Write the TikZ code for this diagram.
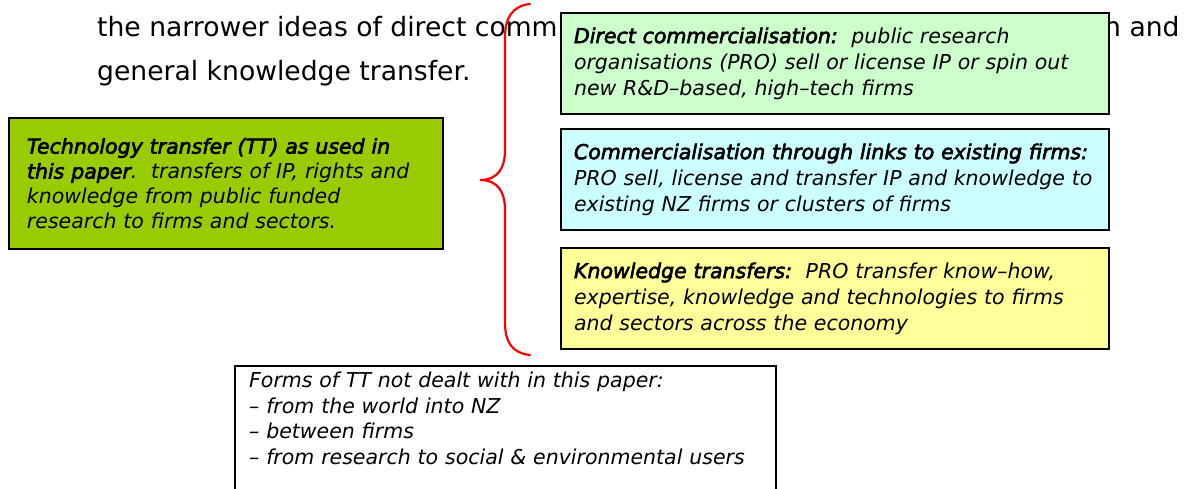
\documentclass[tikz,border=0pt]{standalone}
\usepackage{fontspec}
\setmainfont{DejaVu Sans}[BoldFont={DejaVu Sans}, BoldItalicFont={DejaVu Sans Oblique},
	BoldFeatures={FakeBold=3}, BoldItalicFeatures={FakeBold=3}]
\usepackage{xcolor}

\definecolor{ttgreen}{HTML}{99CC00}
\definecolor{dcgreen}{HTML}{CCFFCC}
\definecolor{linkcyan}{HTML}{CCFFFF}
\definecolor{ktyellow}{HTML}{FFFF99}

\tikzset{
	bodytext/.style={anchor=base west, inner sep=0pt, font=\fontsize{26.6}{43}\selectfont},
	ttbox/.style={draw, rectangle, line width=2pt, anchor=north west, align=left,
		font=\fontsize{20.5}{25}\selectfont\itshape},
	kind/.style={ttbox, inner xsep=13pt, text width=522pt, minimum height=101pt,
		font=\fontsize{20.5}{26}\selectfont\itshape},
}

\begin{document}
\begin{tikzpicture}[x=1pt, y=-1pt]
	\useasboundingbox (0,0) rectangle (1185,488);
	\clip (0,0) rectangle (1185,488);

	% running text of the page behind the figure
	\node[bodytext] at (97,36) (line1) {the narrower ideas of direct comm};
	\node[bodytext] at (1104,36) (line1end) {n and};
	\node[bodytext] at (97,80) (line2) {general knowledge transfer.};

	% the definition used in the paper
	\node[ttbox, fill=ttgreen, inner xsep=18pt, text width=398pt, minimum height=131pt] at (8,117) (tt)
		{\textbf{Technology transfer (TT) as used in}\\
		 \textbf{this paper}.~~transfers of IP, rights and\\
		 knowledge from public funded\\
		 research to firms and sectors.};

	% the three kinds of TT
	\node[kind, fill=dcgreen] at (560,12) (direct)
		{\textbf{Direct commercialisation:}~~public research\\
		 organisations (PRO) sell or license IP or spin out\\
		 new R\&D–based, high–tech firms};
	\node[kind, fill=linkcyan] at (560,128) (links)
		{\textbf{Commercialisation through links to existing firms:}\\
		 PRO sell, license and transfer IP and knowledge to\\
		 existing NZ firms or clusters of firms};
	\node[kind, fill=ktyellow] at (560,247) (know)
		{\textbf{Knowledge transfers:}~~PRO transfer know–how,\\
		 expertise, knowledge and technologies to firms\\
		 and sectors across the economy};

	% forms left out (box runs on below the page)
	\fill[white] (235,366) rectangle (776,520);
	\node[anchor=north west, align=left, inner xsep=14pt, inner ysep=6pt, text width=513pt,
		font=\fontsize{20.5}{25.5}\selectfont\itshape] at (235,366) (other)
		{Forms of TT not dealt with in this paper:\\
		 – from the world into NZ\\
		 – between firms\\
		 – from research to social \& environmental users};
	\draw[line width=2pt] (other.north west) rectangle ([yshift=-60pt]other.south east);

	% brace from the definition to its three kinds
	\coordinate (bracetop) at (530,4);
	\coordinate (bracetip) at (480,180);
	\coordinate (bracebot) at (530,355);
	\draw[red, line width=2.2pt, line cap=round]
		(bracetop) .. controls (512,6) and (505,18) .. (505,38)
		-- (505,150) .. controls (505,168) and (498,180) .. (bracetip)
		.. controls (498,180) and (505,192) .. (505,210)
		-- (505,322) .. controls (505,342) and (512,353) .. (bracebot);
\end{tikzpicture}
\end{document}
